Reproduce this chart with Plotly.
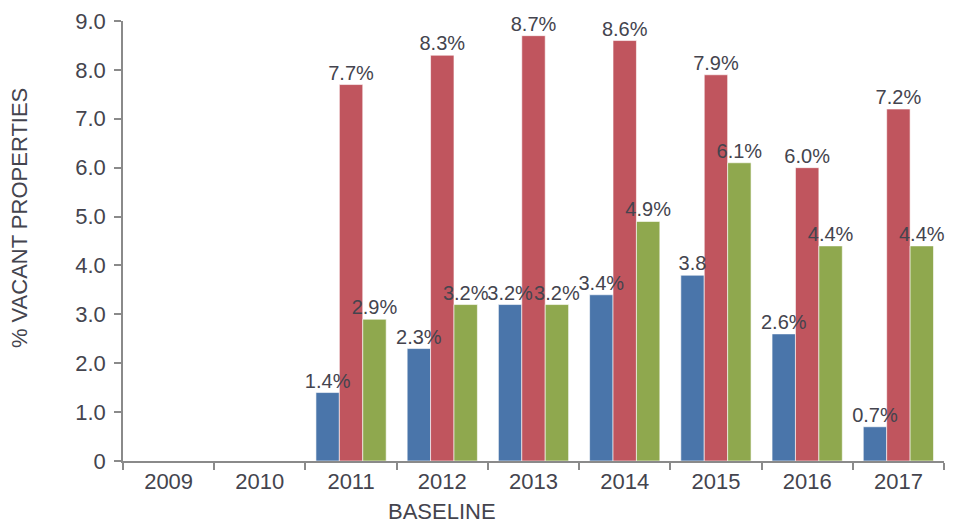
import plotly.graph_objects as go

years = ["2009", "2010", "2011", "2012", "2013", "2014", "2015", "2016", "2017"]
series_a = [None, None, 1.4, 2.3, 3.2, 3.4, 3.8, 2.6, 0.7]
series_b = [None, None, 7.7, 8.3, 8.7, 8.6, 7.9, 6.0, 7.2]
series_c = [None, None, 2.9, 3.2, 3.2, 4.9, 6.1, 4.4, 4.4]
labels_a = ["", "", "1.4%", "2.3%", "3.2%", "3.4%", "3.8", "2.6%", "0.7%"]
labels_b = ["", "", "7.7%", "8.3%", "8.7%", "8.6%", "7.9%", "6.0%", "7.2%"]
labels_c = ["", "", "2.9%", "3.2%", "3.2%", "4.9%", "6.1%", "4.4%", "4.4%"]
baseline_year = "2012"
y_ticks = [0, 1, 2, 3, 4, 5, 6, 7, 8, 9]
y_tick_labels = ["0", "1.0", "2.0", "3.0", "4.0", "5.0", "6.0", "7.0", "8.0", "9.0"]

FONT = "Liberation Sans, Arial, sans-serif"
TXT = "#44444e"
AX = "#8a8a8a"
colors = ["#4a75aa", "#c0555e", "#8fa84e"]
GAP = 0.23

fig = go.Figure()
series = [series_a, series_b, series_c]
labels = [labels_a, labels_b, labels_c]
for i, (vals, col) in enumerate(zip(series, colors)):
    fig.add_trace(go.Bar(
        x=years, y=vals, offsetgroup=str(i), alignmentgroup="g",
        marker=dict(color=col, line=dict(color="white", width=0.6)),
        showlegend=False, hoverinfo="skip",
    ))
# value labels drawn on top of all bars
for i, (vals, labs) in enumerate(zip(series, labels)):
    fig.add_trace(go.Scatter(
        x=years, y=vals, text=labs, mode="text", textposition="top center",
        offsetgroup=str(i), alignmentgroup="g", cliponaxis=False,
        textfont=dict(family=FONT, size=20, color=TXT), showlegend=False,
    ))

fig.update_layout(
    width=957, height=523,
    margin=dict(l=123, r=13, t=21, b=62),
    paper_bgcolor="white", plot_bgcolor="white",
    barmode="group", bargap=GAP, bargroupgap=0,
    scattermode="group", scattergap=GAP,
    font=dict(family=FONT, color=TXT),
    xaxis=dict(
        type="category", categoryorder="array", categoryarray=years,
        range=[-0.5, len(years) - 0.5], tickson="boundaries", ticks="outside", ticklen=7,
        tickcolor=AX, tickwidth=1.5, showline=True, linecolor=AX,
        linewidth=1.5, showgrid=False, tickangle=0, automargin=False,
        tickfont=dict(size=22, family=FONT, color=TXT),
    ),
    yaxis=dict(
        range=[0, 9], tickvals=y_ticks, ticktext=y_tick_labels, ticks="outside",
        ticklen=7, tickcolor=AX, tickwidth=1.5, showline=True, automargin=False,
        linecolor=AX, linewidth=1.5, showgrid=False, zeroline=False,
        ticklabelstandoff=4,
        tickfont=dict(size=22, family=FONT, color=TXT),
    ),
    annotations=[
        dict(x=years.index(baseline_year), y=0, xref="x", yref="paper", yanchor="top",
             yshift=-36, text="BASELINE", showarrow=False,
             font=dict(size=22, family=FONT, color=TXT)),
        dict(x=0, y=0.552, xref="paper", yref="paper", xanchor="center", yanchor="middle",
             xshift=-104, text="% VACANT PROPERTIES", textangle=-90, showarrow=False,
             font=dict(size=22, family=FONT, color=TXT)),
    ],
)

fig.write_html(
    "out.html",
    config={"displayModeBar": False},
    post_script="document.body.style.margin='0';document.body.style.overflow='hidden';",
)
